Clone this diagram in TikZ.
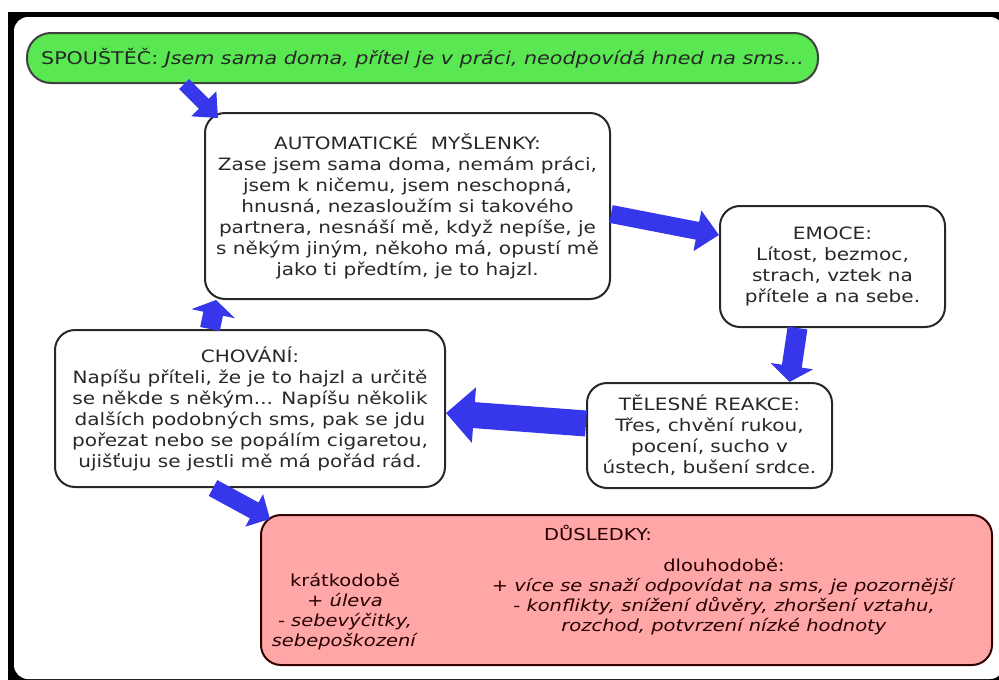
\documentclass[tikz,border=0pt]{standalone}
\usepackage{fontspec}
\setmainfont{DejaVu Sans}[FakeStretch=1.18]
\usetikzlibrary{arrows.meta, positioning}
\definecolor{flowblue}{RGB}{54,54,234}
\definecolor{triggergreen}{RGB}{90,232,82}
\definecolor{resultpink}{RGB}{255,166,166}
\definecolor{boxgray}{RGB}{40,40,40}

\begin{document}
\begin{tikzpicture}[x=1pt, y=-1pt,
                    thought/.style= {rectangle,
                      rounded corners=20pt,
                      draw=boxgray,
                      fill=white,
                      line width=2pt,
                      text=boxgray,
                      align=center,
                      inner sep=0pt,
                      font=\fontsize{17}{21}\selectfont},
                    trigger/.style= {thought,
                      rounded corners=24pt,
                      fill=triggergreen,
                      draw=black!75,
                      text=black!85,
                      minimum width=791pt,
                      minimum height=50pt,
                      font=\fontsize{17.5}{21}\selectfont},
                    result/.style= {thought,
                      fill=resultpink,
                      draw=black!80!red},
                    resulttext/.style= {align=center,
                      inner sep=0pt,
                      text=black!85!red,
                      font=\fontsize{16.5}{20}\selectfont},
                    flow/.style args= {#1 and #2 and #3}{draw=flowblue,
                      line width=#1,
                      -{Triangle[width=#2, length=#3]}}]

  % frame
  \useasboundingbox (0,0) rectangle (999,680);
  \fill[black] (8,12) rectangle (999,680);
  \fill[white, rounded corners=14pt] (14,17) rectangle (1004,679);

  \node[trigger] (trigger) at (422.5,58)
    {SPOUŠTĚČ: \textit{Jsem sama doma, přítel je v práci, neodpovídá hned na sms...}};
  \node[thought, minimum width=405pt, minimum height=186pt] (thoughts) at (407.5,206)
    {AUTOMATICKÉ\ \ MYŠLENKY:\\
     Zase jsem sama doma, nemám práci,\\
     jsem k ničemu, jsem neschopná,\\
     hnusná, nezasloužím si takového\\
     partnera, nesnáší mě, když nepíše, je\\
     s někým jiným, někoho má, opustí mě\\
     jako ti předtím, je to hajzl.};
  \node[thought, minimum width=225pt, minimum height=121pt] (emotions) at (832.5,266.5)
    {EMOCE:\\
     Lítost, bezmoc,\\
     strach, vztek na\\
     přítele a na sebe.};
  \node[thought, minimum width=245pt, minimum height=105pt] (body) at (709.5,435.5)
    {TĚLESNÉ REAKCE:\\
     Třes, chvění rukou,\\
     pocení, sucho v\\
     ústech, bušení srdce.};
  \node[thought, minimum width=390pt, minimum height=157pt] (behaviour) at (250,408.5)
    {CHOVÁNÍ:\\
     Napíšu příteli, že je to hajzl a určitě\\
     se někde s někým... Napíšu několik\\
     dalších podobných sms, pak se jdu\\
     pořezat nebo se popálím cigaretou,\\
     ujišťuju se jestli mě má pořád rád.};
  \node[result, minimum width=731pt, minimum height=150pt] (consequences) at (626.5,590) {};
  \node[resulttext] (resulttitle) at (598,533) {DŮSLEDKY:};
  \node[resulttext] (shortterm) at (345,612)
    {krátkodobě\\
     + \textit{úleva}\\
     - \textit{sebevýčitky,}\\
     \textit{sebepoškození}};
  \node[resulttext] (longterm) at (724,597)
    {dlouhodobě:\\
     + \textit{více se snaží odpovídat na sms, je pozornější}\\
     - \textit{konflikty, snížení důvěry, zhoršení vztahu,}\\
     \textit{rozchod, potvrzení nízké hodnoty}};

  \path
    ([xshift=158pt]trigger.south west)
        edge[flow=14pt and 34pt and 20pt] ([xshift=14pt, yshift=-6pt]thoughts.north west)
    ([yshift=-8pt]thoughts.east)
        edge[flow=18pt and 40pt and 22pt] ([yshift=-30pt]emotions.north west)
    ([xshift=-35pt]emotions.south)
        edge[flow=20pt and 42pt and 16pt] ([xshift=80pt]body.north)
    ([yshift=12pt]body.west)
        edge[flow=26pt and 54pt and 28pt] ([yshift=-4.5pt]behaviour.east)
    ([xshift=-40pt]behaviour.north)
        edge[flow=20pt and 44pt and 14pt] ([xshift=12pt]thoughts.south west)
    ([xshift=-37pt]behaviour.south)
        edge[flow=18pt and 36pt and 18pt] ([xshift=10pt, yshift=-5pt]consequences.north west);
\end{tikzpicture}
\end{document}
